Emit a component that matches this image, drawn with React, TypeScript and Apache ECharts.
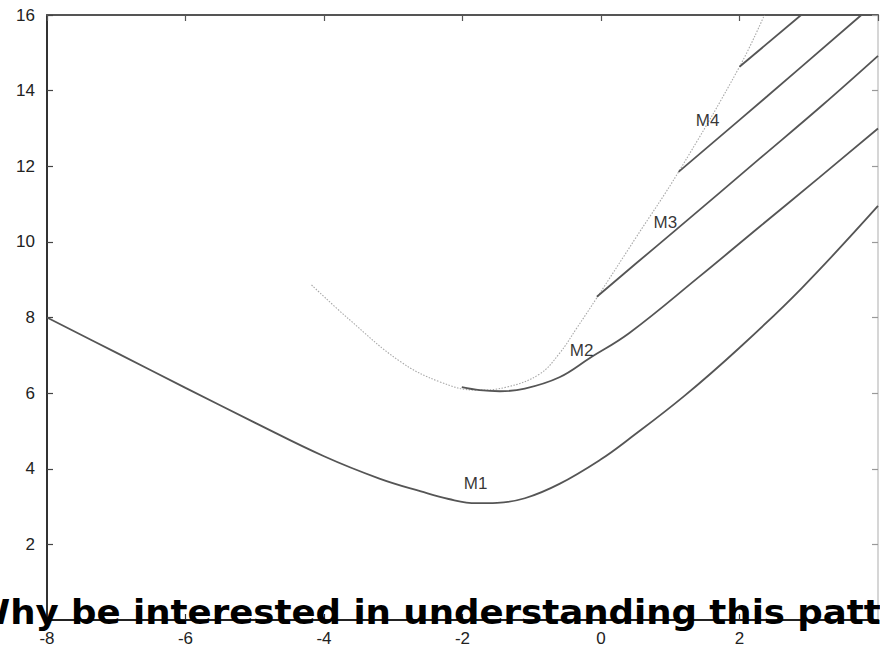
import React, { useEffect, useRef } from "react";
import * as echarts from "echarts";

// Axis ranges
const xRange = [-8, 4];
const yRange = [0, 16];

// Mass curves (x, M) read along each branch
const curveM1: [number, number][] = [
  [-8, 8.0], [-7, 7.07], [-6, 6.14], [-5, 5.22], [-4, 4.33], [-3.2, 3.74],
  [-2.6, 3.4], [-2.2, 3.2], [-1.8, 3.09], [-1.5, 3.1], [-1.1, 3.22],
  [-0.6, 3.6], [0, 4.25], [0.4, 4.78], [1.2, 5.92], [2, 7.2], [2.9, 8.78],
  [4, 10.95],
];
const curveM2: [number, number][] = [
  [-2.01, 6.16], [-1.75, 6.08], [-1.46, 6.05], [-1.1, 6.12], [-0.6, 6.42],
  [-0.16, 6.93], [0.41, 7.59], [1.42, 9.08], [2.29, 10.4], [3.15, 11.7],
  [4, 13.0],
];
const curveM3: [number, number][] = [
  [-0.06, 8.55], [0.5, 9.42], [1.09, 10.33], [2.29, 12.2], [3.2, 13.62], [4, 14.92],
];
const curveM4: [number, number][] = [
  [1.12, 11.85], [2.4, 13.85], [3.76, 16.0],
];
const curveM5: [number, number][] = [
  [2.0, 14.63], [2.89, 16.0],
];
// Dotted envelope joining the branch start points
const envelope: [number, number][] = [
  [-4.18, 8.86], [-3.63, 7.94], [-2.91, 6.85], [-2.33, 6.3], [-1.8, 6.08],
  [-1.36, 6.16], [-0.89, 6.5], [-0.6, 7.05], [-0.35, 7.72], [-0.06, 8.52],
  [0.5, 10.1], [1.12, 11.85], [2.0, 14.63], [2.36, 16.0],
];

// Curve name labels and their anchor points
const labelNames = ["M1", "M2", "M3", "M4"];
const labelX = [-1.81, -0.28, 0.93, 1.54];
const labelY = [3.62, 7.12, 10.5, 13.2];

const headline = "Why be interested in understanding this patt";

const solid = (data: [number, number][]) => ({
  type: "line",
  data,
  smooth: 0.4,
  showSymbol: false,
  symbol: "none",
  clip: true,
  lineStyle: { color: "#555", width: 1.8 },
  z: 3,
});

export default function App() {
  const ref = useRef<HTMLDivElement>(null);

  useEffect(() => {
    if (!ref.current) return;
    const chart = echarts.init(ref.current, undefined, { renderer: "svg" });
    const labelFont = { fontFamily: "Liberation Sans", fontSize: 17, color: "#222" };
    chart.setOption({
      animation: false,
      backgroundColor: "#fff",
      grid: {
        left: 47,
        right: 2,
        top: 15,
        bottom: 25,
        containLabel: false,
        outerBoundsMode: "none",
      },
      xAxis: [
        {
          type: "value",
          min: xRange[0],
          max: xRange[1],
          interval: 2,
          position: "bottom",
          axisLine: { onZero: false, lineStyle: { color: "#222", width: 2 } },
          axisTick: { inside: true, length: 6, lineStyle: { color: "#333", width: 1.2 } },
          axisLabel: { ...labelFont, margin: 10, showMaxLabel: false },
          splitLine: { show: false },
        },
        {
          type: "value",
          min: xRange[0],
          max: xRange[1],
          interval: 2,
          position: "top",
          axisLine: { onZero: false, lineStyle: { color: "#555", width: 2 } },
          axisTick: { inside: true, length: 6, lineStyle: { color: "#555", width: 1.2 } },
          axisLabel: { show: false },
          splitLine: { show: false },
        },
      ],
      yAxis: [
        {
          type: "value",
          min: yRange[0],
          max: yRange[1],
          interval: 2,
          position: "left",
          axisLine: { onZero: false, lineStyle: { color: "#333", width: 2 } },
          axisTick: { inside: true, length: 6, lineStyle: { color: "#444", width: 1.2 } },
          axisLabel: { ...labelFont, margin: 12, showMinLabel: false },
          splitLine: { show: false },
        },
        {
          type: "value",
          min: yRange[0],
          max: yRange[1],
          interval: 2,
          position: "right",
          axisLine: { onZero: false, lineStyle: { color: "#c8c8c8", width: 1.5 } },
          axisTick: { inside: true, length: 6, lineStyle: { color: "#999", width: 1.2 } },
          axisLabel: { show: false },
          splitLine: { show: false },
        },
      ],
      series: [
        {
          type: "line",
          data: envelope,
          smooth: 0.4,
          showSymbol: false,
          symbol: "none",
          lineStyle: { color: "#a8a8a8", width: 1.1, type: [1.5, 1.5] },
          z: 2,
        },
        solid(curveM1),
        solid(curveM2),
        solid(curveM3),
        solid(curveM4),
        solid(curveM5),
        {
          type: "scatter",
          symbolSize: 1,
          itemStyle: { color: "rgba(0,0,0,0)" },
          data: labelNames.map((n, i) => ({ name: n, value: [labelX[i], labelY[i]] })),
          label: {
            show: true,
            position: "inside",
            formatter: (p: any) => p.name,
            fontFamily: "Liberation Sans",
            fontSize: 17,
            color: "#000",
          },
          z: 5,
        },
      ],
      graphic: [
        {
          type: "text",
          x: -29,
          y: 612,
          scaleX: 1.078,
          z: 100,
          style: {
            text: headline,
            font: 'bold 33px "DejaVu Sans"',
            fill: "#000",
            align: "left",
            verticalAlign: "middle",
          },
        },
      ],
    });
    return () => chart.dispose();
  }, []);

  return (
    <div
      ref={ref}
      style={{ position: "fixed", left: 0, top: 0, width: 880, height: 645, background: "#fff" }}
    />
  );
}
